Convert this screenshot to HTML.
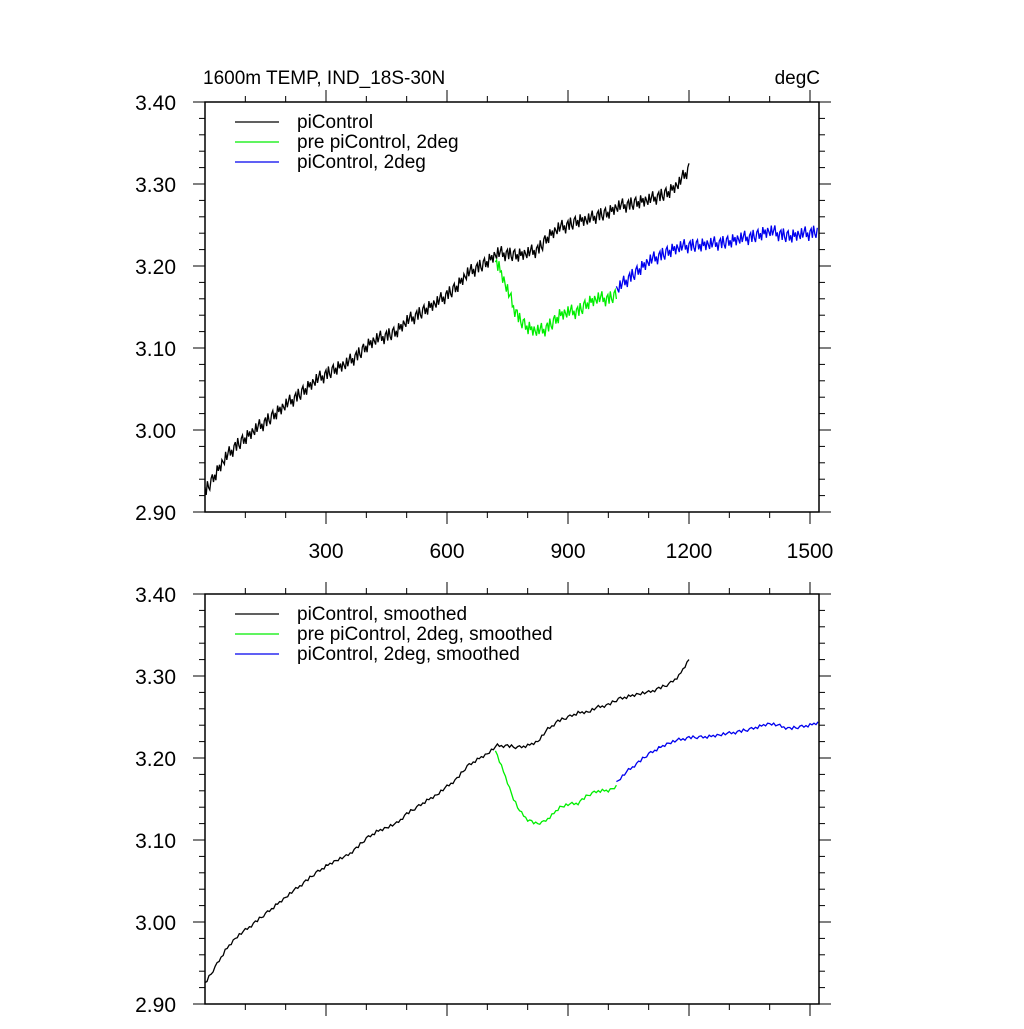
<!DOCTYPE html>
<html><head><meta charset="utf-8"><style>
html,body{margin:0;padding:0;background:#fff;}
svg text{font-family:"Liberation Sans",sans-serif;fill:#000;}
</style></head><body>
<svg id="c" width="1024" height="1024" viewBox="0 0 1024 1024" xmlns="http://www.w3.org/2000/svg"></svg>
<script>
// data (years, degC)
const blackYears=[0,25,50,75,100,125,150,175,200,225,250,275,300,325,350,375,400,425,450,475,500,525,550,575,600,625,650,675,700,725,750,775,800,825,850,875,900,925,950,975,1000,1025,1050,1075,1100,1125,1150,1175,1200];
const blackVals=[2.925,2.945,2.965,2.98,2.99,3.0,3.01,3.02,3.03,3.04,3.05,3.06,3.068,3.075,3.08,3.09,3.102,3.11,3.115,3.12,3.132,3.14,3.148,3.155,3.165,3.175,3.19,3.198,3.205,3.215,3.215,3.213,3.215,3.22,3.235,3.245,3.25,3.255,3.256,3.262,3.265,3.272,3.275,3.278,3.28,3.285,3.29,3.3,3.32];
const greenYears=[720,735,750,765,780,800,820,840,860,880,900,925,950,975,1000,1020];
const greenVals=[3.21,3.19,3.17,3.15,3.135,3.125,3.12,3.122,3.13,3.14,3.143,3.145,3.155,3.16,3.16,3.165];
const blueYears=[1020,1050,1075,1100,1125,1150,1175,1200,1250,1300,1350,1400,1450,1500,1520];
const blueVals=[3.17,3.185,3.195,3.205,3.212,3.218,3.222,3.225,3.226,3.23,3.235,3.242,3.236,3.24,3.243];
const jitter=[0.004,-0.005,0.006,-0.002,-0.006,0.003,0.005,-0.004,0.001,-0.006,0.006,-0.001,0.003,-0.005,0.004,0.0,-0.004,0.006,-0.003,0.002,0.007,-0.003,0.001,-0.007,0.002];
const xTicks=[300,600,900,1200,1500];
const yTicks=[2.9,3.0,3.1,3.2,3.3,3.4];
const legendTop=["piControl","pre piControl, 2deg","piControl, 2deg"];
const legendBot=["piControl, smoothed","pre piControl, 2deg, smoothed","piControl, 2deg, smoothed"];
const colors=["#000000","#00ee00","#0000ee"];

const svg=document.getElementById('c');
const NS="http://www.w3.org/2000/svg";
function mk(t,a,p){const e=document.createElementNS(NS,t);for(const k in a)e.setAttribute(k,a[k]);(p||svg).appendChild(e);return e;}
const X0=205,X1=819;
function xs(v){return X0+v*(121/300);}
function interp(xsA,ys,x){for(let i=0;i<xsA.length-1;i++){if(x<=xsA[i+1]){const t=(x-xsA[i])/(xsA[i+1]-xsA[i]);return ys[i]+t*(ys[i+1]-ys[i]);}}return ys[ys.length-1];}

function panel(top,legend,raw,name,showX){
  const g=mk('g',{});
  
  
  const bot=top+410;
  const ys=v=>bot-(v-2.9)*820;
  const series=[[blackYears,blackVals],[greenYears,greenVals],[blueYears,blueVals]];
  series.forEach((s,si)=>{
    const yrs=s[0],vals=s[1];
    const step=raw?3:5, amp=raw?1.3:0.3;
    let d='';let k=si*7;
    for(let x=yrs[0];x<=yrs[yrs.length-1];x+=step){
      const v=interp(yrs,vals,x)+jitter[(k++)%jitter.length]*amp;
      d+=(d?'L':'M')+xs(x).toFixed(1)+','+ys(v).toFixed(1);
    }
    const p=mk('path',{d:d,fill:'none',stroke:colors[si],'stroke-width':1.3},g);
    
    
  });
  const fr=mk('rect',{x:X0,y:top,width:X1-X0,height:410,fill:'none',stroke:'#000','stroke-width':1.5},g);
  
  
  for(let v=100;v<=1500;v+=100){
    const major=v%300===0;const L=major?12:6;const x=xs(v);
    mk('line',{x1:x,x2:x,y1:top,y2:top-L,stroke:'#000','stroke-width':1},g);
    mk('line',{x1:x,x2:x,y1:bot,y2:bot+L,stroke:'#000','stroke-width':1},g);
  }
  if(showX) xTicks.forEach(v=>{const t=mk('text',{x:xs(v),y:bot+46,'font-size':21,'text-anchor':'middle'},g);t.textContent=v;
    });
  for(let i=0;i<=25;i++){
    const v=2.9+i*0.02;const major=i%5===0;const L=major?12:6;const y=ys(v);
    mk('line',{x1:X0,x2:X0-L,y1:y,y2:y,stroke:'#000','stroke-width':1},g);
    mk('line',{x1:X1,x2:X1+L,y1:y,y2:y,stroke:'#000','stroke-width':1},g);
  }
  yTicks.forEach(v=>{const t=mk('text',{x:176,y:ys(v)+8,'font-size':21,'text-anchor':'end'},g);t.textContent=v.toFixed(2);
    });
  legend.forEach((s,i)=>{
    const y=top+20+i*20;
    const l=mk('line',{x1:235,x2:279,y1:y,y2:y,stroke:colors[i],'stroke-width':1.3},g);
    
    const t=mk('text',{x:297,y:y+6,'font-size':19},g);t.textContent=s;
    
  });
}
panel(102,legendTop,true,'top-panel',true);
panel(594,legendBot,false,'bottom-panel',false);
const t1=mk('text',{x:203,y:84,'font-size':19});t1.textContent="1600m TEMP, IND_18S-30N";


const t2=mk('text',{x:820,y:84,'font-size':19,'text-anchor':'end'});t2.textContent="degC";


</script>
</body></html>
